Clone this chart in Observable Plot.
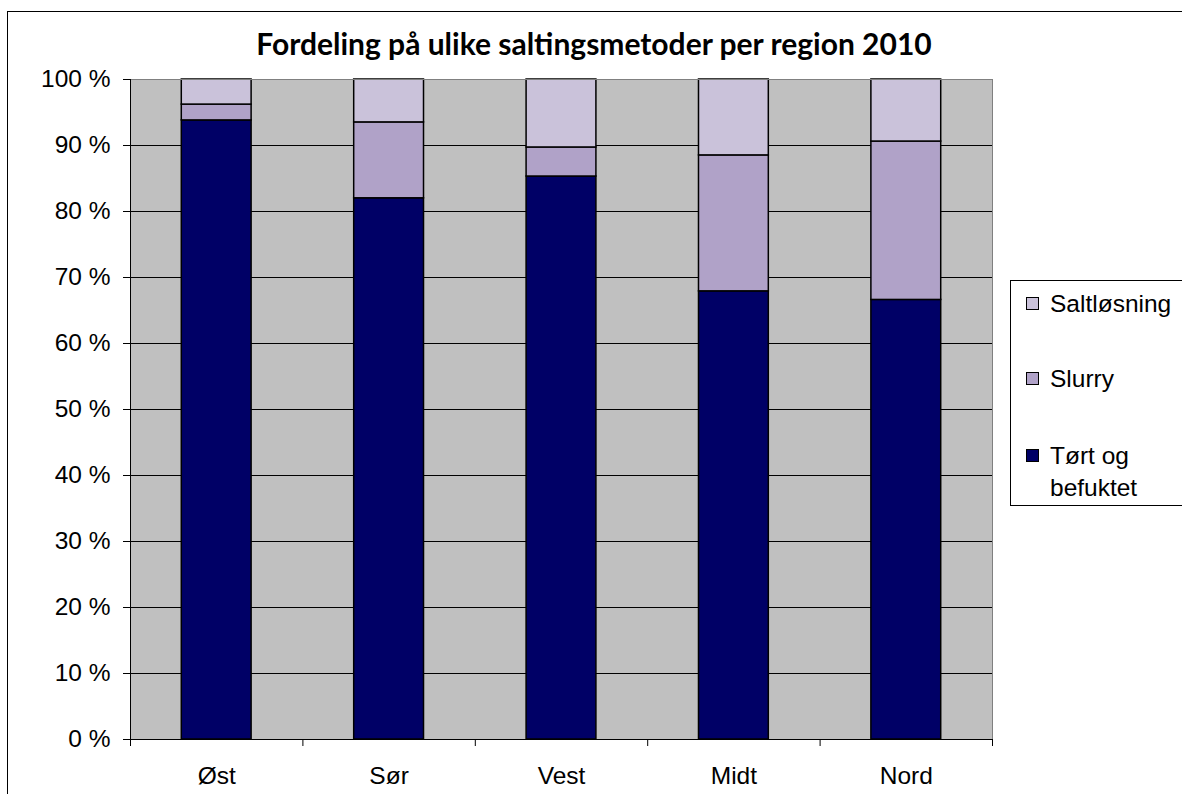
<!DOCTYPE html>
<html><head><meta charset="utf-8">
<script src="https://cdn.jsdelivr.net/npm/d3@7"></script>
<script src="https://cdn.jsdelivr.net/npm/@observablehq/plot@0.6"></script>
<style>
body{margin:0;overflow:hidden;background:#fff;font-family:"Liberation Sans",Arial,sans-serif;}
#wrap{position:relative;width:1182px;height:794px;overflow:hidden;}
#border{position:absolute;left:7px;top:11px;width:1200px;height:800px;border:1px solid #000;}
#chart{position:absolute;left:0;top:0;}
#title{position:absolute;left:0;width:1188px;top:25px;text-align:center;font-family:Lato,sans-serif;font-weight:bold;font-size:30px;line-height:36px;color:#000;}
#legend{position:absolute;left:1010px;top:280px;width:180px;height:224px;border:1px solid #000;background:#fff;}
.item{position:absolute;left:15px;font-size:24.5px;line-height:32px;color:#000;}
.sw{position:absolute;left:0;top:9px;width:11px;height:11px;border:1px solid #000;}
.lab{position:absolute;left:24px;top:0;white-space:nowrap;}
</style></head><body>
<div id="wrap"><div id="border"></div><div id="chart"></div><div id="title"></div><div id="legend"></div></div>
<script>
const title = "Fordeling på ulike saltingsmetoder per region 2010";
const regions = ["Øst", "Sør", "Vest", "Midt", "Nord"];
const methods = ["Tørt og befuktet", "Slurry", "Saltløsning"];
const tort = [93.8, 82.0, 85.3, 67.9, 66.6];
const slurry = [2.4, 11.5, 4.4, 20.6, 24.0];
const salt = [3.8, 6.5, 10.3, 11.5, 9.4];
const colors = ["#000066", "#B0A2C8", "#CAC2DA"];
const yTicks = d3.range(0, 101, 10);

const series = [tort, slurry, salt];
const segments = [];
regions.forEach((r, i) => {
  let acc = 0;
  series.forEach((s, k) => {
    segments.push({i, region: r, method: methods[k], y1: acc, y2: acc + s[i]});
    acc += s[i];
  });
});

const barFrac = 0.405;
const chart = Plot.plot({
  width: 1182, height: 794,
  marginLeft: 130, marginRight: 190, marginTop: 79, marginBottom: 55,
  style: {fontFamily: "Liberation Sans, Arial, sans-serif", fontSize: "24px", background: "transparent", color: "#000"},
  x: {type: "linear", domain: [0, regions.length]},
  y: {domain: [0, 100]},
  color: {domain: methods, range: colors},
  marks: [
    Plot.frame({fill: "#C0C0C0"}),
    Plot.ruleY(yTicks.slice(1, -1), {stroke: "#000", strokeWidth: 1}),
    Plot.rect(segments, {
      x1: d => d.i + (1 - barFrac) / 2, x2: d => d.i + (1 + barFrac) / 2,
      y1: "y1", y2: "y2", fill: "method", stroke: "#000", strokeWidth: 1.5
    }),
    Plot.frame({stroke: "#808080"}),
    Plot.ruleY([0], {stroke: "#000"}),
    Plot.ruleX([0], {stroke: "#000"}),
    Plot.axisY({ticks: yTicks, tickFormat: d => d + " %", tickSize: 7, tickPadding: 13, fontSize: 24.5, label: null}),
    Plot.axisX({ticks: d3.range(0, regions.length + 1), tickFormat: () => "", tickSize: 7, label: null}),
    Plot.axisX({ticks: regions.map((_, i) => i + 0.5), tickFormat: v => regions[Math.floor(v)], tickSize: 0, tickPadding: 27, fontSize: 24.5, label: null})
  ]
});
document.getElementById("chart").appendChild(chart);
document.getElementById("title").textContent = title;

const legend = document.getElementById("legend");
const legendItems = [
  {k: 2, top: 7},
  {k: 1, top: 82},
  {k: 0, top: 159, lines: ["Tørt og", "befuktet"]}
];
legendItems.forEach(it => {
  const div = document.createElement("div");
  div.className = "item";
  div.style.top = it.top + "px";
  const sw = document.createElement("div");
  sw.className = "sw";
  sw.style.background = colors[it.k];
  const lab = document.createElement("div");
  lab.className = "lab";
  if (it.lines) lab.innerHTML = it.lines.join("<br>");
  else lab.textContent = methods[it.k];
  div.appendChild(sw); div.appendChild(lab);
  legend.appendChild(div);
});
</script>
</body></html>
